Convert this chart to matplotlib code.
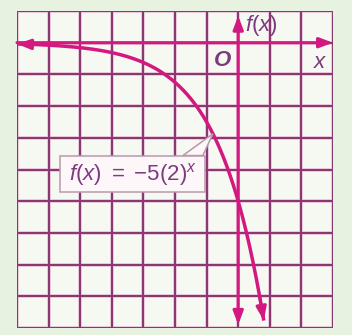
import numpy as np
import matplotlib
matplotlib.use("Agg")
import matplotlib.pyplot as plt
from matplotlib.patches import Polygon, Rectangle

plt.rcParams["mathtext.fontset"] = "custom"
plt.rcParams["mathtext.rm"] = "Liberation Sans"
plt.rcParams["mathtext.it"] = "Liberation Sans:italic"
plt.rcParams["mathtext.bf"] = "Liberation Sans:bold:italic"

# f(x) = a * b**x
coef_a = -5
base_b = 2
x_start, x_end = -7.0, 0.81

x_ticks = list(range(-7, 4))
y_ticks = list(range(-9, 2))

grid_col = "#88396f"
halo_col = "#f0cde0"
pink = "#d3197f"
text_col = "#7d3a7e"

fig = plt.figure(figsize=(3.52, 3.35), dpi=100)
fig.patch.set_facecolor("#e7f2e0")
ax = fig.add_axes([17 / 352, 7 / 335, 316 / 352, 317 / 335])
ax.set_xlim(x_ticks[0], x_ticks[-1])
ax.set_ylim(y_ticks[0], y_ticks[-1])
ax.set_facecolor("#f6f8f2")
for s in ax.spines.values():
    s.set_visible(False)
ax.set_xticks([])
ax.set_yticks([])

# grid with a faint pink halo
for xv in x_ticks:
    ax.plot([xv, xv], [y_ticks[0], y_ticks[-1]], color=halo_col, lw=2.8, zorder=1, solid_capstyle="butt")
    ax.plot([xv, xv], [y_ticks[0], y_ticks[-1]], color=grid_col, lw=1.5, zorder=2, solid_capstyle="butt")
for yv in y_ticks:
    ax.plot([x_ticks[0], x_ticks[-1]], [yv, yv], color=halo_col, lw=2.8, zorder=1, solid_capstyle="butt")
    ax.plot([x_ticks[0], x_ticks[-1]], [yv, yv], color=grid_col, lw=1.5, zorder=2, solid_capstyle="butt")

arrow = dict(arrowstyle="-|>,head_length=0.8,head_width=0.3", color=pink, lw=2.2, shrinkA=0, shrinkB=0)

# axes
ax.annotate("", xy=(x_ticks[-1], 0), xytext=(x_ticks[0], 0), arrowprops=arrow, zorder=4)
ax.annotate("", xy=(0, y_ticks[-1] - 0.15), xytext=(0, -4), arrowprops=arrow, zorder=4)
ax.annotate("", xy=(0, y_ticks[0] + 0.1), xytext=(0, -4), arrowprops=arrow, zorder=4)

# curve
xs = np.linspace(x_start, x_end, 300)
ys = coef_a * base_b ** xs
ax.plot(xs, ys, color=pink, lw=2.5, zorder=5, solid_capstyle="butt")
ax.annotate("", xy=(xs[0], ys[0]), xytext=(xs[8], ys[8]), arrowprops=arrow, zorder=6)
ax.annotate("", xy=(xs[-1], ys[-1]), xytext=(xs[-6], ys[-6]), arrowprops=arrow, zorder=6)

# axis labels
ax.text(0.2, 0.55, "$f(x)$", color=text_col, fontsize=16, ha="left", va="center", zorder=7)
ax.text(-0.5, -0.55, r"$\mathbf{O}$", color=text_col, fontsize=16, ha="center", va="center", zorder=7)
ax.text(2.6, -0.6, "$x$", color=text_col, fontsize=16, ha="center", va="center", zorder=7)

# callout label
tip_x = -0.8
tip_y = coef_a * base_b ** tip_x
box_l, box_r, box_b, box_t = -5.63, -1.04, -4.7, -3.56
ax.add_patch(Polygon([(-1.75, box_t), (tip_x, tip_y), (-1.12, box_t)], closed=True,
                     facecolor="#fdf7fa", edgecolor="#b79aaa", lw=1.1, zorder=6))
ax.add_patch(Rectangle((box_l, box_b), box_r - box_l, box_t - box_b,
                       facecolor="#fdf7fa", edgecolor="#b79aaa", lw=1.1, zorder=6))
ax.text((box_l + box_r) / 2, (box_b + box_t) / 2 - 0.02, r"$f(x)\ =\ {-5}(2)^{x}$",
        color=text_col, fontsize=16, ha="center", va="center", zorder=8)

fig.savefig("out.png", dpi=100, facecolor=fig.get_facecolor())
